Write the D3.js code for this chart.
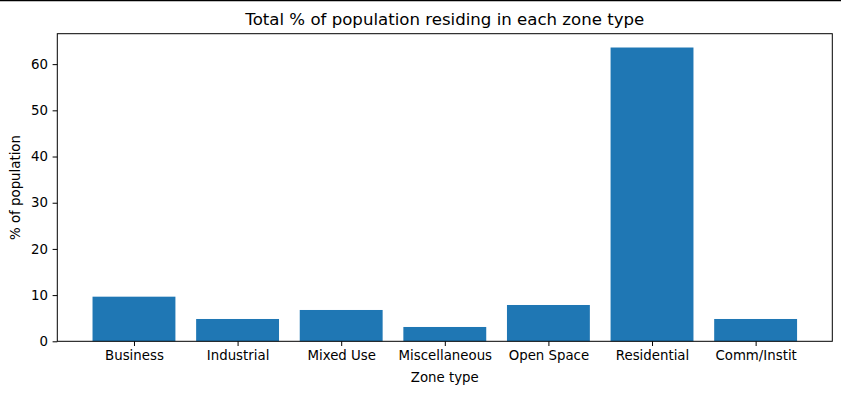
<!DOCTYPE html>
<html>
<head>
<meta charset="utf-8">
<script src="https://cdn.jsdelivr.net/npm/d3@7"></script>
<style>
  body { margin: 0; background: #fff; }
  text { font-family: "DejaVu Sans", sans-serif; fill: #000; }
</style>
</head>
<body>
<div id="chart"></div>
<script>
// zone types and share of population (%)
var zones = ["Business", "Industrial", "Mixed Use", "Miscellaneous", "Open Space", "Residential", "Comm/Instit"];
var pct = [9.66, 4.83, 6.78, 3.1, 7.86, 63.6, 4.83];
var yTicks = [0, 10, 20, 30, 40, 50, 60];

var W = 841, H = 393;
var margin = {top: 33.7, right: 841 - 832.3, bottom: 393 - 341.3, left: 57.3};
var w = W - margin.left - margin.right;
var h = H - margin.top - margin.bottom;
var barW = 0.8;

var svg = d3.select("#chart").append("svg")
  .attr("width", W).attr("height", H);

// thin rule along the top edge
svg.append("line")
  .attr("x1", 0).attr("x2", W).attr("y1", 0.5).attr("y2", 0.5)
  .attr("stroke", "#000").attr("stroke-width", 1.5);

var g = svg.append("g").attr("transform", "translate(" + margin.left + "," + margin.top + ")");

// matplotlib style: bars at integer positions, 5% margins
var lo = -barW / 2, hi = zones.length - 1 + barW / 2;
var pad = (hi - lo) * 0.05;
var x = d3.scaleLinear().domain([lo - pad, hi + pad]).range([0, w]);
var y = d3.scaleLinear().domain([0, d3.max(pct) * 1.047]).range([h, 0]);

g.selectAll("rect.bar")
  .data(pct)
  .enter().append("rect")
    .attr("class", "bar")
    .attr("x", function(d, i) { return x(i - barW / 2); })
    .attr("width", function(d, i) { return x(i + barW / 2) - x(i - barW / 2); })
    .attr("y", function(d) { return y(d); })
    .attr("height", function(d) { return h - y(d); })
    .attr("fill", "#1f77b4");

var xAxis = d3.axisBottom(x)
  .tickValues(d3.range(zones.length))
  .tickFormat(function(i) { return zones[i]; })
  .tickSize(4.7).tickPadding(4.7);

var gx = g.append("g")
  .attr("transform", "translate(0," + h + ")")
  .call(xAxis);
gx.select(".domain").remove();
gx.selectAll("text").style("font-size", "13.33px");

var yAxis = d3.axisLeft(y)
  .tickValues(yTicks)
  .tickSize(4.7).tickPadding(4.7);
var gy = g.append("g").call(yAxis);
gy.select(".domain").remove();
gy.selectAll("text").style("font-size", "13.33px");

// frame
g.append("rect")
  .attr("x", 0).attr("y", 0).attr("width", w).attr("height", h)
  .attr("fill", "none").attr("stroke", "#000").attr("stroke-width", 1);

// labels
svg.append("text")
  .attr("x", margin.left + w / 2).attr("y", 25)
  .attr("text-anchor", "middle")
  .style("font-size", "16.6px")
  .text("Total % of population residing in each zone type");

svg.append("text")
  .attr("x", margin.left + w / 2).attr("y", 382)
  .attr("text-anchor", "middle")
  .style("font-size", "13.33px")
  .text("Zone type");

svg.append("text")
  .attr("transform", "translate(20," + (margin.top + h / 2) + ") rotate(-90)")
  .attr("text-anchor", "middle")
  .style("font-size", "13.33px")
  .text("% of population");
</script>
</body>
</html>
